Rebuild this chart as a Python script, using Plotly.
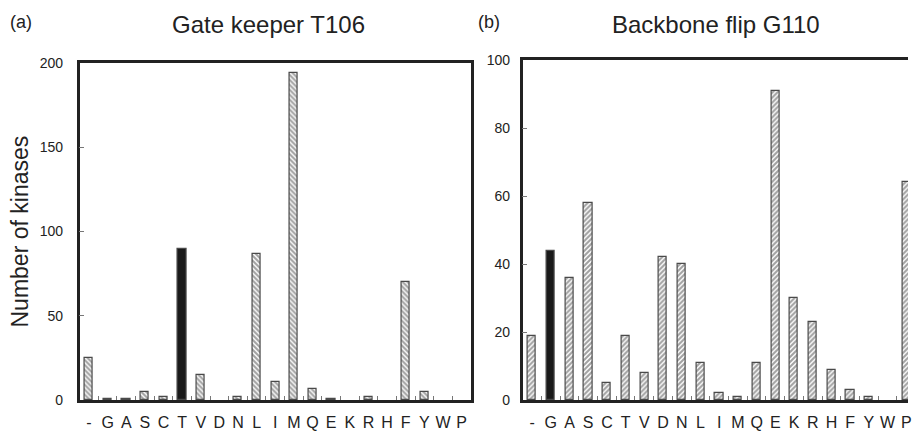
import plotly.graph_objects as go

residues = ["-", "G", "A", "S", "C", "T", "V", "D", "N", "L", "I", "M", "Q", "E", "K", "R", "H", "F", "Y", "W", "P"]
gatekeeper_counts = [25, 1, 1, 5, 2, 90, 15, 0, 2, 87, 11, 194, 7, 1, 0, 2, 0, 70, 5, 0, 0]
backbone_counts = [19, 44, 36, 58, 5, 19, 8, 42, 40, 11, 2, 1, 11, 91, 30, 23, 9, 3, 1, 0, 64]
gatekeeper_wt = "T"
backbone_wt = "G"

FONT = "Liberation Sans, Arial, sans-serif"
INK = "#222222"


def bar_trace(counts, wt, hatch, xaxis, yaxis):
    colors = ["#1a1a1a" if r == wt else "white" for r in residues]
    shapes = ["" if r == wt else hatch for r in residues]
    yvals = [c if c > 0 else None for c in counts]
    return go.Bar(
        x=residues, y=yvals, width=0.44,
        xaxis=xaxis, yaxis=yaxis,
        marker=dict(
            color=colors,
            line=dict(color="#4a4a4a", width=1.2),
            pattern=dict(shape=shapes, fillmode="overlay", fgcolor="#000000",
                         size=3.5, solidity=0.6),
        ),
        showlegend=False,
    )


fig = go.Figure()
fig.add_trace(bar_trace(gatekeeper_counts, gatekeeper_wt, "\\", "x", "y"))
fig.add_trace(bar_trace(backbone_counts, backbone_wt, "/", "x2", "y2"))

xcommon = dict(type="category", categoryorder="array", categoryarray=residues,
               tickmode="array", tickvals=residues, ticktext=residues, tickangle=0,
               tickson="boundaries", ticks="inside", ticklen=4, tickcolor="#777",
               tickwidth=1, showline=True, linecolor=INK, linewidth=2.5,
               mirror=True, showgrid=False, zeroline=False, ticklabelstandoff=6,
               tickfont=dict(family=FONT, size=16, color=INK))
ycommon = dict(ticks="inside", ticklen=5, tickcolor="#777", tickwidth=1,
               showline=True, linecolor=INK, linewidth=2.5, showgrid=False,
               zeroline=False, tickfont=dict(family=FONT, size=14, color=INK))

fig.update_layout(
    width=912, height=441,
    margin=dict(l=0, r=0, t=0, b=0),
    paper_bgcolor="white", plot_bgcolor="white",
    bargap=0,
    xaxis=dict(**xcommon, domain=[80 / 912, 473 / 912], range=[-0.5, 20.5], anchor="y"),
    yaxis=dict(**ycommon, domain=[(441 - 407) / 441, (441 - 57) / 441], range=[0, 200],
               tickvals=[0, 50, 100, 150, 200], mirror=True, anchor="x",
               ticklabelstandoff=11),
    xaxis2=dict(**xcommon, domain=[525 / 912, 1.0], range=[-0.5, 20.09], anchor="y2"),
    yaxis2=dict(**ycommon, domain=[(441 - 407) / 441, (441 - 54) / 441], range=[0, 100],
                tickvals=[0, 20, 40, 60, 80, 100], mirror=False, anchor="x2",
                ticklabelstandoff=7),
)

annotations = [
    dict(text="(a)", x=21, y=15, size=18),
    dict(text="Gate keeper T106", x=270, y=17, size=24),
    dict(text="(b)", x=491, y=15, size=18),
    dict(text="Backbone flip G110", x=719, y=17, size=24),
    dict(text="Number of kinases", x=20, y=232, size=23, angle=-90),
]
for a in annotations:
    fig.add_annotation(
        text=a["text"], xref="paper", yref="paper",
        x=a["x"] / 912, y=1 - a["y"] / 441, xanchor="center", yanchor="middle",
        showarrow=False, textangle=a.get("angle", 0),
        font=dict(family=FONT, color=INK, size=a["size"]),
    )

fig.write_html("out.html")
